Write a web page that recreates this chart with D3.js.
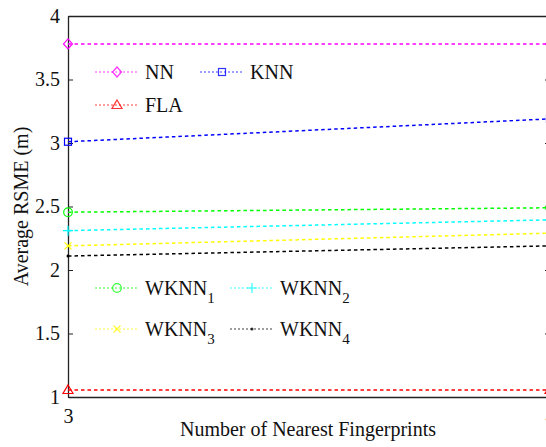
<!DOCTYPE html>
<html>
<head>
<meta charset="utf-8">
<script src="https://d3js.org/d3.v7.min.js"></script>
<style>
	body { margin: 0; background: #fff; }
	svg text { font-family: "Liberation Serif", "Times New Roman", serif; fill: #111; }
</style>
</head>
<body>
<div id="chart"></div>
<script>
	// values
	var xValues = [3, 4];
	var xTicks = [3, 4];
	var yTicks = [1, 1.5, 2, 2.5, 3, 3.5, 4];
	var nnValues = [3.78, 3.78];
	var knnValues = [3.01, 3.19];
	var flaValues = [1.055, 1.055];
	var wknn1Values = [2.455, 2.49];
	var wknn2Values = [2.31, 2.395];
	var wknn3Values = [2.19, 2.29];
	var wknn4Values = [2.11, 2.19];

	var series = [
		{name: "NN", sub: "", color: "#ff00ff", marker: "diamond", values: nnValues, lx: 95, ly: 72},
		{name: "KNN", sub: "", color: "#0000ff", marker: "square", values: knnValues, lx: 200, ly: 72},
		{name: "FLA", sub: "", color: "#ff0000", marker: "triangle", values: flaValues, lx: 95, ly: 105},
		{name: "WKNN", sub: "1", color: "#00ff00", marker: "circle", values: wknn1Values, lx: 95, ly: 288},
		{name: "WKNN", sub: "2", color: "#00ffff", marker: "plus", values: wknn2Values, lx: 230, ly: 288},
		{name: "WKNN", sub: "3", color: "#ffff00", marker: "cross", values: wknn3Values, lx: 95, ly: 329},
		{name: "WKNN", sub: "4", color: "#000000", marker: "dot", values: wknn4Values, lx: 230, ly: 329}
	];

	var svgWidth = 546, svgHeight = 447;
	var plotLeft = 68, plotRight = 550, plotTop = 16, plotBottom = 397;

	var svg = d3.select("#chart").append("svg")
		.attr("width", svgWidth)
		.attr("height", svgHeight);

	var x = d3.scaleLinear().domain([3, 4]).range([plotLeft, plotRight]);
	var y = d3.scaleLinear().domain([1, 4]).range([plotBottom, plotTop]);

	// marker drawing
	function drawMarker(g, type, cx, cy, color) {
		if (type == "diamond") {
			g.append("path")
				.attr("d", "M" + cx + "," + (cy - 5) + "L" + (cx + 4.5) + "," + cy + "L" + cx + "," + (cy + 5) + "L" + (cx - 4.5) + "," + cy + "Z")
				.attr("fill", "none").attr("stroke", color).attr("stroke-width", 1.2);
		} else if (type == "square") {
			g.append("rect")
				.attr("x", cx - 3.5).attr("y", cy - 3.5).attr("width", 7).attr("height", 7)
				.attr("fill", "none").attr("stroke", color).attr("stroke-width", 1.2);
		} else if (type == "triangle") {
			g.append("path")
				.attr("d", "M" + cx + "," + (cy - 5) + "L" + (cx + 5) + "," + (cy + 3.5) + "L" + (cx - 5) + "," + (cy + 3.5) + "Z")
				.attr("fill", "none").attr("stroke", color).attr("stroke-width", 1.2);
		} else if (type == "circle") {
			g.append("circle")
				.attr("cx", cx).attr("cy", cy).attr("r", 4.3)
				.attr("fill", "none").attr("stroke", color).attr("stroke-width", 1.2);
		} else if (type == "plus") {
			g.append("path")
				.attr("d", "M" + (cx - 5) + "," + cy + "H" + (cx + 5) + "M" + cx + "," + (cy - 5) + "V" + (cy + 5))
				.attr("stroke", color).attr("stroke-width", 1.2);
		} else if (type == "cross") {
			g.append("path")
				.attr("d", "M" + (cx - 3.5) + "," + (cy - 3.5) + "L" + (cx + 3.5) + "," + (cy + 3.5) + "M" + (cx - 3.5) + "," + (cy + 3.5) + "L" + (cx + 3.5) + "," + (cy - 3.5))
				.attr("stroke", color).attr("stroke-width", 1.2);
		} else if (type == "dot") {
			g.append("circle")
				.attr("cx", cx).attr("cy", cy).attr("r", 1.5)
				.attr("fill", color);
		}
	}

	// axes (MATLAB style box, ticks pointing inward)
	var axisG = svg.append("g");

	axisG.append("g")
		.attr("transform", "translate(" + plotLeft + ",0)")
		.call(d3.axisLeft(y).tickValues(yTicks).tickSizeInner(-5).tickSizeOuter(0).tickPadding(10).tickFormat(d3.format("")))
		.call(function(g) {
			g.select(".domain").attr("stroke", "#222").attr("stroke-width", 1.3);
			g.selectAll(".tick line").attr("stroke", "#222");
			g.selectAll(".tick text").attr("font-size", 20).attr("font-family", "Liberation Serif").attr("fill", "#111").attr("dx", "0.1em");
		});

	axisG.append("g")
		.attr("transform", "translate(" + plotRight + ",0)")
		.call(d3.axisRight(y).tickValues(yTicks).tickSizeInner(-5).tickSizeOuter(0).tickFormat(""))
		.call(function(g) {
			g.select(".domain").attr("stroke", "#222").attr("stroke-width", 1.3);
			g.selectAll(".tick line").attr("stroke", "#222");
		});

	axisG.append("g")
		.attr("transform", "translate(0," + plotBottom + ")")
		.call(d3.axisBottom(x).tickValues(xTicks).tickSizeInner(-5).tickSizeOuter(0).tickPadding(12).tickFormat(d3.format("d")))
		.call(function(g) {
			g.select(".domain").attr("stroke", "#222").attr("stroke-width", 1.3);
			g.selectAll(".tick line").attr("stroke", "#222");
			g.selectAll(".tick text").attr("font-size", 20).attr("font-family", "Liberation Serif").attr("fill", "#111");
		});

	axisG.append("g")
		.attr("transform", "translate(0," + plotTop + ")")
		.call(d3.axisTop(x).tickValues(xTicks).tickSizeInner(-5).tickSizeOuter(0).tickFormat(""))
		.call(function(g) {
			g.select(".domain").attr("stroke", "#222").attr("stroke-width", 1.3);
			g.selectAll(".tick line").attr("stroke", "#222");
		});

	// lines and markers
	var line = d3.line()
		.x(function(d, i) { return x(xValues[i]); })
		.y(function(d) { return y(d); });

	var plotG = svg.append("g");
	series.forEach(function(s) {
		plotG.append("path")
			.datum(s.values)
			.attr("d", line)
			.attr("fill", "none")
			.attr("stroke", s.color)
			.attr("stroke-width", 1.5)
			.attr("stroke-dasharray", "3.5,3");
		s.values.forEach(function(v, i) {
			drawMarker(plotG, s.marker, x(xValues[i]), y(v), s.color);
		});
	});

	// legends
	var legG = svg.append("g");
	series.forEach(function(s) {
		legG.append("line")
			.attr("x1", s.lx).attr("x2", s.lx + 43)
			.attr("y1", s.ly).attr("y2", s.ly)
			.attr("stroke", s.color)
			.attr("stroke-width", 1)
			.attr("stroke-dasharray", "2,2")
			.attr("opacity", 0.75);
		var mg = legG.append("g").attr("opacity", 0.8);
		drawMarker(mg, s.marker, s.lx + 22, s.ly, s.color);
		var t = legG.append("text")
			.attr("x", s.lx + 50)
			.attr("y", s.ly + 7)
			.attr("font-size", 20)
			.text(s.name);
		if (s.sub) {
			t.append("tspan")
				.attr("dy", 8)
				.attr("font-size", 15)
				.text(s.sub);
		}
	});

	// axis titles
	svg.append("text")
		.attr("x", 308)
		.attr("y", 436)
		.attr("text-anchor", "middle")
		.attr("font-size", 20)
		.text("Number of Nearest Fingerprints");

	svg.append("text")
		.attr("transform", "translate(28," + ((plotTop + plotBottom) / 2) + ") rotate(-90)")
		.attr("text-anchor", "middle")
		.attr("font-size", 20)
		.text("Average RSME (m)");
</script>
</body>
</html>
